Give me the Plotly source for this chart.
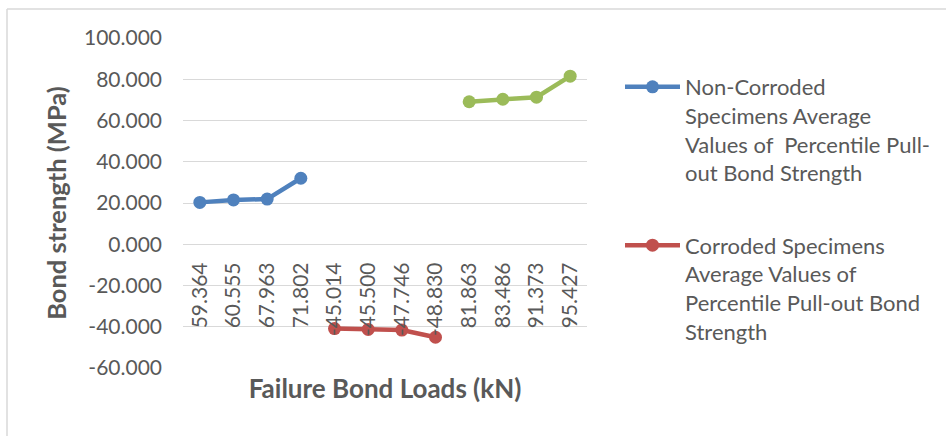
import plotly.graph_objects as go

# Failure bond loads (kN), used as category labels on the horizontal axis
loads_non_corroded = ["59.364", "60.555", "67.963", "71.802"]
loads_corroded = ["-45.014", "-45.500", "-47.746", "-48.830"]
loads_third = ["81.863", "83.486", "91.373", "95.427"]

# Bond strength (MPa)
strength_non_corroded = [20.3, 21.5, 21.9, 32.0]
strength_corroded = [-40.9, -41.3, -41.6, -45.1]
strength_third = [69.1, 70.3, 71.3, 81.5]

# Value axis ticks
y_ticks = [-60, -40, -20, 0, 20, 40, 60, 80, 100]
y_tick_labels = ["-60.000", "-40.000", "-20.000", "0.000", "20.000",
                 "40.000", "60.000", "80.000", "100.000"]

name_non_corroded = "Non-Corroded<br>Specimens Average<br>Values of  Percentile Pull-<br>out Bond Strength"
name_corroded = "Corroded Specimens<br>Average Values of<br>Percentile Pull-out Bond<br>Strength"

categories = loads_non_corroded + loads_corroded + loads_third

BLUE = "#4F81BD"
RED = "#C0504D"
GREEN = "#9BBB59"
TEXT = "#595959"
GRID = "#d9d9d9"
FONT = "Lato, 'Open Sans', sans-serif"

W, H = 946, 436
L, R, T, B = 183, 359, 38, 68
pw, ph = W - L - R, H - T - B


def px_x(p):
    return (p - L) / pw


def px_y(p):
    return (H - B - p) / ph


fig = go.Figure()
fig.add_trace(go.Scatter(
    x=loads_non_corroded, y=strength_non_corroded, name=name_non_corroded,
    mode="lines+markers", line=dict(color=BLUE, width=4.5),
    marker=dict(color=BLUE, size=13), legendgroup="a",
))
fig.add_trace(go.Scatter(
    x=loads_corroded, y=strength_corroded, name=name_corroded,
    mode="lines+markers", line=dict(color=RED, width=4.5),
    marker=dict(color=RED, size=13), legendgroup="b",
))
fig.add_trace(go.Scatter(
    x=loads_third, y=strength_third, showlegend=False,
    mode="lines+markers", line=dict(color=GREEN, width=4.5),
    marker=dict(color=GREEN, size=13),
))

y_min, y_max = y_ticks[0], y_ticks[-1]

fig.update_layout(
    width=W, height=H,
    margin=dict(l=L, r=R, t=T, b=B, autoexpand=False),
    paper_bgcolor="white", plot_bgcolor="white",
    font=dict(family=FONT, color=TEXT, size=21),
    showlegend=True,
    legend=dict(
        x=px_x(620), y=px_y(66), xanchor="left", yanchor="top",
        font=dict(family=FONT, size=22, color=TEXT),
        valign="top", itemwidth=55, tracegroupgap=41,
        bgcolor="rgba(0,0,0,0)",
    ),
    xaxis=dict(
        type="category", categoryorder="array", categoryarray=categories,
        range=[-0.5, len(categories) - 0.5],
        anchor="free", position=(0 - y_min) / (y_max - y_min),
        showgrid=False, zeroline=False, showline=False,
        tickangle=-90, ticks="", ticklabelstandoff=13,
        tickfont=dict(family=FONT, size=21, color=TEXT),
        title=dict(text="<b>Failure Bond Loads (kN)</b>", standoff=44,
                   font=dict(family=FONT, size=26, color=TEXT)),
        automargin=True,
    ),
    yaxis=dict(
        range=[y_min, y_max], tickmode="array",
        tickvals=y_ticks, ticktext=y_tick_labels,
        showgrid=True, gridcolor=GRID, gridwidth=1.3,
        zeroline=False, showline=False, ticks="",
        ticklabelstandoff=20,
        tickfont=dict(family=FONT, size=21, color=TEXT),
        title=dict(text="<b>Bond strength (MPa)</b>", standoff=10,
                   font=dict(family=FONT, size=25.5, color=TEXT)),
        automargin=True,
    ),
    shapes=[
        dict(type="line", xref="paper", yref="paper",
             x0=px_x(7), x1=px_x(W + 5), y0=px_y(9), y1=px_y(9),
             line=dict(color=GRID, width=1.5)),
        dict(type="line", xref="paper", yref="paper",
             x0=px_x(7), x1=px_x(7), y0=px_y(9), y1=px_y(H + 5),
             line=dict(color=GRID, width=1.5)),
    ],
)

fig.write_html("out.html")
